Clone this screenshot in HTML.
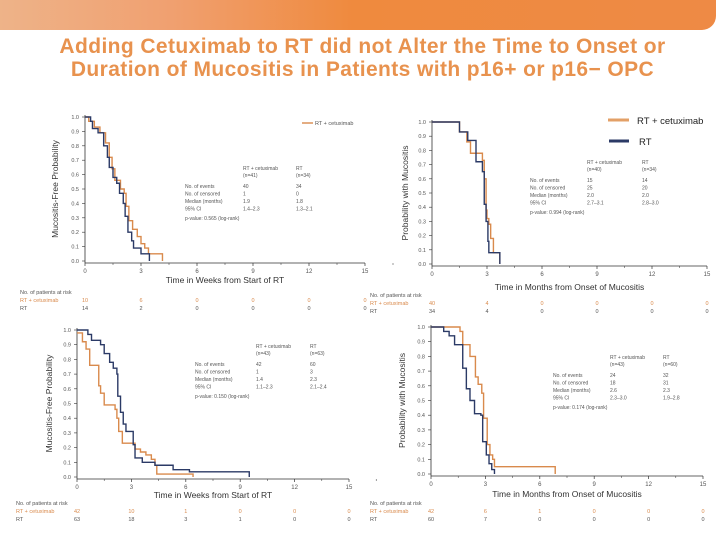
<!DOCTYPE html>
<html><head><meta charset="utf-8">
<style>
html,body{margin:0;padding:0;background:#fff;}
#wrap{position:relative;width:720px;height:540px;overflow:hidden;font-family:"Liberation Sans",sans-serif;}
#banner{position:absolute;left:-10px;top:0;width:726px;height:30px;border-bottom-right-radius:14px;
background:linear-gradient(90deg,#eeb48a 0%,#f0a070 25%,#ef8a3e 50%,#ee8a45 100%);}
#title{position:absolute;left:0;top:35px;width:725px;text-align:center;color:#e8924e;font-weight:bold;font-size:21px;line-height:23px;letter-spacing:0.4px;}
svg{position:absolute;left:0;top:0;}
</style></head><body>
<div id="wrap">
<div id="banner"></div>
<div id="title">Adding Cetuximab to RT did not Alter the Time to Onset or<br>Duration of Mucositis in Patients with p16+ or p16− OPC</div>
<svg id="chart" width="720" height="540"></svg>
</div>
<script>
const xTicks=[0,3,6,9,12,15];
const yTicks=[0,0.1,0.2,0.3,0.4,0.5,0.6,0.7,0.8,0.9,1.0];
// panel 1 (TL)
const p1OrangeT=[0,0.2,0.5,0.8,1.1,1.3,1.45,1.6,1.9,2.1,2.2,2.35,2.55,2.8,3.0,3.2,3.4,4.15];
const p1OrangeS=[1.0,0.97,0.93,0.89,0.82,0.72,0.64,0.56,0.50,0.47,0.38,0.28,0.22,0.17,0.12,0.09,0.05,0.0];
const p1NavyT=[0,0.3,0.4,0.7,1.0,1.2,1.3,1.5,1.7,1.85,2.05,2.15,2.3,2.5,2.6,3.0,3.45];
const p1NavyS=[1.0,0.97,0.92,0.89,0.80,0.72,0.65,0.58,0.54,0.47,0.40,0.31,0.20,0.14,0.09,0.05,0.0];
const p1RiskO=["10","6","0","0","0","0"], p1RiskN=["14","2","0","0","0","0"];
const p1Stats=[["RT + cetuximab","RT"],["(n=41)","(n=34)"],["40","34"],["1","0"],["1.9","1.8"],["1.4–2.3","1.3–2.1"]];
const p1P="p-value:    0.565 (log-rank)";
// panel 2 (TR)
const p2OrangeT=[0,1.5,1.9,2.1,2.75,2.85,2.95,3.0,3.1,3.2,3.35,3.7];
const p2OrangeS=[1.0,0.93,0.86,0.78,0.73,0.60,0.38,0.32,0.28,0.18,0.08,0.0];
const p2NavyT=[0,1.5,1.95,2.4,2.75,2.85,2.95,3.05,3.1,3.7];
const p2NavyS=[1.0,0.93,0.87,0.72,0.65,0.42,0.30,0.16,0.08,0.0];
const p2RiskO=["40","4","0","0","0","0"], p2RiskN=["34","4","0","0","0","0"];
const p2Stats=[["RT + cetuximab","RT"],["(n=40)","(n=34)"],["15","14"],["25","20"],["2.0","2.0"],["2.7–3.1","2.8–3.0"]];
const p2P="p-value:    0.994 (log-rank)";
// panel 3 (BL)
const p3OrangeT=[0,0.3,0.5,0.7,1.2,1.3,1.5,2.1,2.2,2.3,2.5,3.2,3.5,3.8,4.1,4.3,4.4,6.4];
const p3OrangeS=[0.98,0.92,0.87,0.76,0.62,0.57,0.49,0.46,0.40,0.31,0.23,0.19,0.17,0.15,0.12,0.08,0.02,0.0];
const p3NavyT=[0,0.6,0.8,1.3,1.5,1.8,2.0,2.2,2.25,2.4,2.55,2.7,3.1,3.2,3.6,4.3,5.3,6.2,9.5];
const p3NavyS=[1.0,0.97,0.93,0.90,0.84,0.78,0.74,0.70,0.55,0.44,0.36,0.31,0.22,0.13,0.10,0.08,0.05,0.035,0.0];
const p3RiskO=["42","10","1","0","0","0"], p3RiskN=["63","18","3","1","0","0"];
const p3Stats=[["RT + cetuximab","RT"],["(n=43)","(n=63)"],["42","60"],["1","3"],["1.4","2.3"],["1.1–2.3","2.1–2.4"]];
const p3P="p-value:    0.150 (log-rank)";
// panel 4 (BR)
const p4OrangeT=[0,1.6,1.75,2.15,2.45,2.6,2.8,2.9,3.1,3.25,3.4,3.5,6.85];
const p4OrangeS=[1.0,0.97,0.88,0.80,0.66,0.61,0.55,0.38,0.20,0.13,0.10,0.05,0.0];
const p4NavyT=[0,0.7,1.0,1.3,1.75,1.95,2.15,2.4,2.75,2.85,3.05,3.2,3.35,3.5];
const p4NavyS=[1.0,0.97,0.94,0.88,0.72,0.58,0.50,0.41,0.40,0.22,0.13,0.07,0.03,0.0];
const p4RiskO=["42","6","1","0","0","0"], p4RiskN=["60","7","0","0","0","0"];
const p4Stats=[["RT + cetuximab","RT"],["(n=43)","(n=60)"],["24","32"],["18","31"],["2.6","2.3"],["2.3–3.0","1.9–2.8"]];
const p4P="p-value:    0.174 (log-rank)";

const OR="#d98a4c", NV="#2b3a66", TX="#555";
const svg=document.getElementById('chart');
const NS="http://www.w3.org/2000/svg";
function mk(tag,attrs,parent){const e=document.createElementNS(NS,tag);for(const k in attrs)e.setAttribute(k,attrs[k]);(parent||svg).appendChild(e);return e;}
function txt(x,y,s,size,fill,anchor,parent){const t=mk('text',{x:x,y:y,'font-size':size,fill:fill,'text-anchor':anchor||'start','font-family':'Liberation Sans, sans-serif'},parent);t.textContent=s;return t;}

function panel(id,cfg){
  const g=mk('g',{});
  
  
  const sx=t=>cfg.x0+(cfg.x1-cfg.x0)*t/15;
  const sy=s=>cfg.y0+(cfg.y1-cfg.y0)*(1-s);
  const ax=mk('g',{},g);
  
  
  mk('line',{x1:cfg.x0,y1:cfg.y1+2,x2:cfg.x1,y2:cfg.y1+2,stroke:'#333','stroke-width':0.8},ax);
  mk('line',{x1:cfg.x0,y1:cfg.y0-2,x2:cfg.x0,y2:cfg.y1+2,stroke:'#333','stroke-width':0.8},ax);
  xTicks.forEach(v=>{
    mk('line',{x1:sx(v),y1:cfg.y1+2,x2:sx(v),y2:cfg.y1+5,stroke:'#333','stroke-width':0.7},ax);
    mk('line',{x1:sx(v+1.5),y1:cfg.y1+2,x2:sx(v+1.5),y2:cfg.y1+4,stroke:'#333','stroke-width':0.5},ax);
    const l=txt(sx(v),cfg.y1+12,String(v),6,TX,'middle',ax);
    
    
  });
  yTicks.forEach(v=>{
    mk('line',{x1:cfg.x0-3,y1:sy(v),x2:cfg.x0,y2:sy(v),stroke:'#333','stroke-width':0.6},ax);
    const l=txt(cfg.x0-6,sy(v)+2,v.toFixed(1),5.5,TX,'end',ax);
    
    
  });
  const yt=txt(0,0,cfg.ytitle,8.5,'#333','middle',g);
  yt.setAttribute('transform','translate('+cfg.ytx+','+((cfg.y0+cfg.y1)/2)+') rotate(-90)');
  
  
  const xt=txt((cfg.x0+cfg.x1)/2,cfg.xty,cfg.xtitle,8.5,'#333','middle',g);
  
  
  function curve(T,S,col,name){
    let d='M'+sx(T[0])+','+sy(S[0]);
    for(let i=1;i<T.length;i++){d+=' H'+sx(T[i])+' V'+sy(S[i]);}
    const p=mk('path',{d:d,fill:'none',stroke:col,'stroke-width':1.4},g);
    
    
  }
  curve(cfg.oT,cfg.oS,OR,'curve-rt-cetuximab');
  curve(cfg.nT,cfg.nS,NV,'curve-rt');
  const st=mk('g',{},g);
  
  
  const labels=["No. of events","No. of censored","Median (months)","95% CI"];
  txt(cfg.sc1,cfg.sy0,cfg.stats[0][0],5,TX,'start',st);txt(cfg.sc2,cfg.sy0,cfg.stats[0][1],5,TX,'start',st);
  txt(cfg.sc1,cfg.sy0+7,cfg.stats[1][0],5,TX,'start',st);txt(cfg.sc2,cfg.sy0+7,cfg.stats[1][1],5,TX,'start',st);
  for(let i=0;i<4;i++){const y=cfg.sy0+18+i*7.5;
    txt(cfg.sl,y,labels[i],5,TX,'start',st);txt(cfg.sc1,y,cfg.stats[i+2][0],5,TX,'start',st);txt(cfg.sc2,y,cfg.stats[i+2][1],5,TX,'start',st);}
  txt(cfg.sl,cfg.sy0+50,cfg.p,5,TX,'start',st);
  const rk=mk('g',{},g);
  
  
  txt(cfg.rx,cfg.ry,'No. of patients at risk',5.5,TX,'start',rk);
  txt(cfg.rx,cfg.ry+8,'RT + cetuximab',5.5,OR,'start',rk);
  txt(cfg.rx,cfg.ry+16,'RT',5.5,TX,'start',rk);
  xTicks.forEach((v,i)=>{txt(sx(v),cfg.ry+8,cfg.rO[i],5.5,OR,'middle',rk);txt(sx(v),cfg.ry+16,cfg.rN[i],5.5,TX,'middle',rk);});
}
panel('panel-p16pos-onset',{x0:85,x1:365,y0:117,y1:261,oT:p1OrangeT,oS:p1OrangeS,nT:p1NavyT,nS:p1NavyS,ytitle:'Mucositis-Free Probability',ytx:58,xtitle:'Time in Weeks from Start of RT',xty:283,stats:p1Stats,p:p1P,sc1:243,sc2:296,sy0:170,sl:185,rO:p1RiskO,rN:p1RiskN,rx:20,ry:294});
panel('panel-p16pos-duration',{x0:432,x1:707,y0:122,y1:264,oT:p2OrangeT,oS:p2OrangeS,nT:p2NavyT,nS:p2NavyS,ytitle:'Probability with Mucositis',ytx:408,xtitle:'Time in Months from Onset of Mucositis',xty:290,stats:p2Stats,p:p2P,sc1:587,sc2:642,sy0:164,sl:530,rO:p2RiskO,rN:p2RiskN,rx:370,ry:297});
panel('panel-p16neg-onset',{x0:77,x1:349,y0:330,y1:477,oT:p3OrangeT,oS:p3OrangeS,nT:p3NavyT,nS:p3NavyS,ytitle:'Mucositis-Free Probability',ytx:52,xtitle:'Time in Weeks from Start of RT',xty:498,stats:p3Stats,p:p3P,sc1:256,sc2:310,sy0:348,sl:195,rO:p3RiskO,rN:p3RiskN,rx:16,ry:505});
panel('panel-p16neg-duration',{x0:431,x1:703,y0:327,y1:474,oT:p4OrangeT,oS:p4OrangeS,nT:p4NavyT,nS:p4NavyS,ytitle:'Probability with Mucositis',ytx:405,xtitle:'Time in Months from Onset of Mucositis',xty:497,stats:p4Stats,p:p4P,sc1:610,sc2:663,sy0:359,sl:553,rO:p4RiskO,rN:p4RiskN,rx:370,ry:505});
const lg1=mk('g',{});


mk('line',{x1:302,y1:123,x2:313,y2:123,stroke:OR,'stroke-width':1.4},lg1);
txt(315,125,'RT + cetuximab',5.5,TX,'start',lg1);
const lg2=mk('g',{});


const e1=mk('g',{},lg2);


mk('line',{x1:608,y1:120,x2:629,y2:120,stroke:'#e3a067','stroke-width':3},e1);
txt(637,124,'RT + cetuximab',9.5,'#222','start',e1);
const e2=mk('g',{},lg2);


mk('line',{x1:609,y1:141,x2:629,y2:141,stroke:NV,'stroke-width':3},e2);
txt(639,145,'RT',9.5,'#222','start',e2);
</script>
</body></html>
